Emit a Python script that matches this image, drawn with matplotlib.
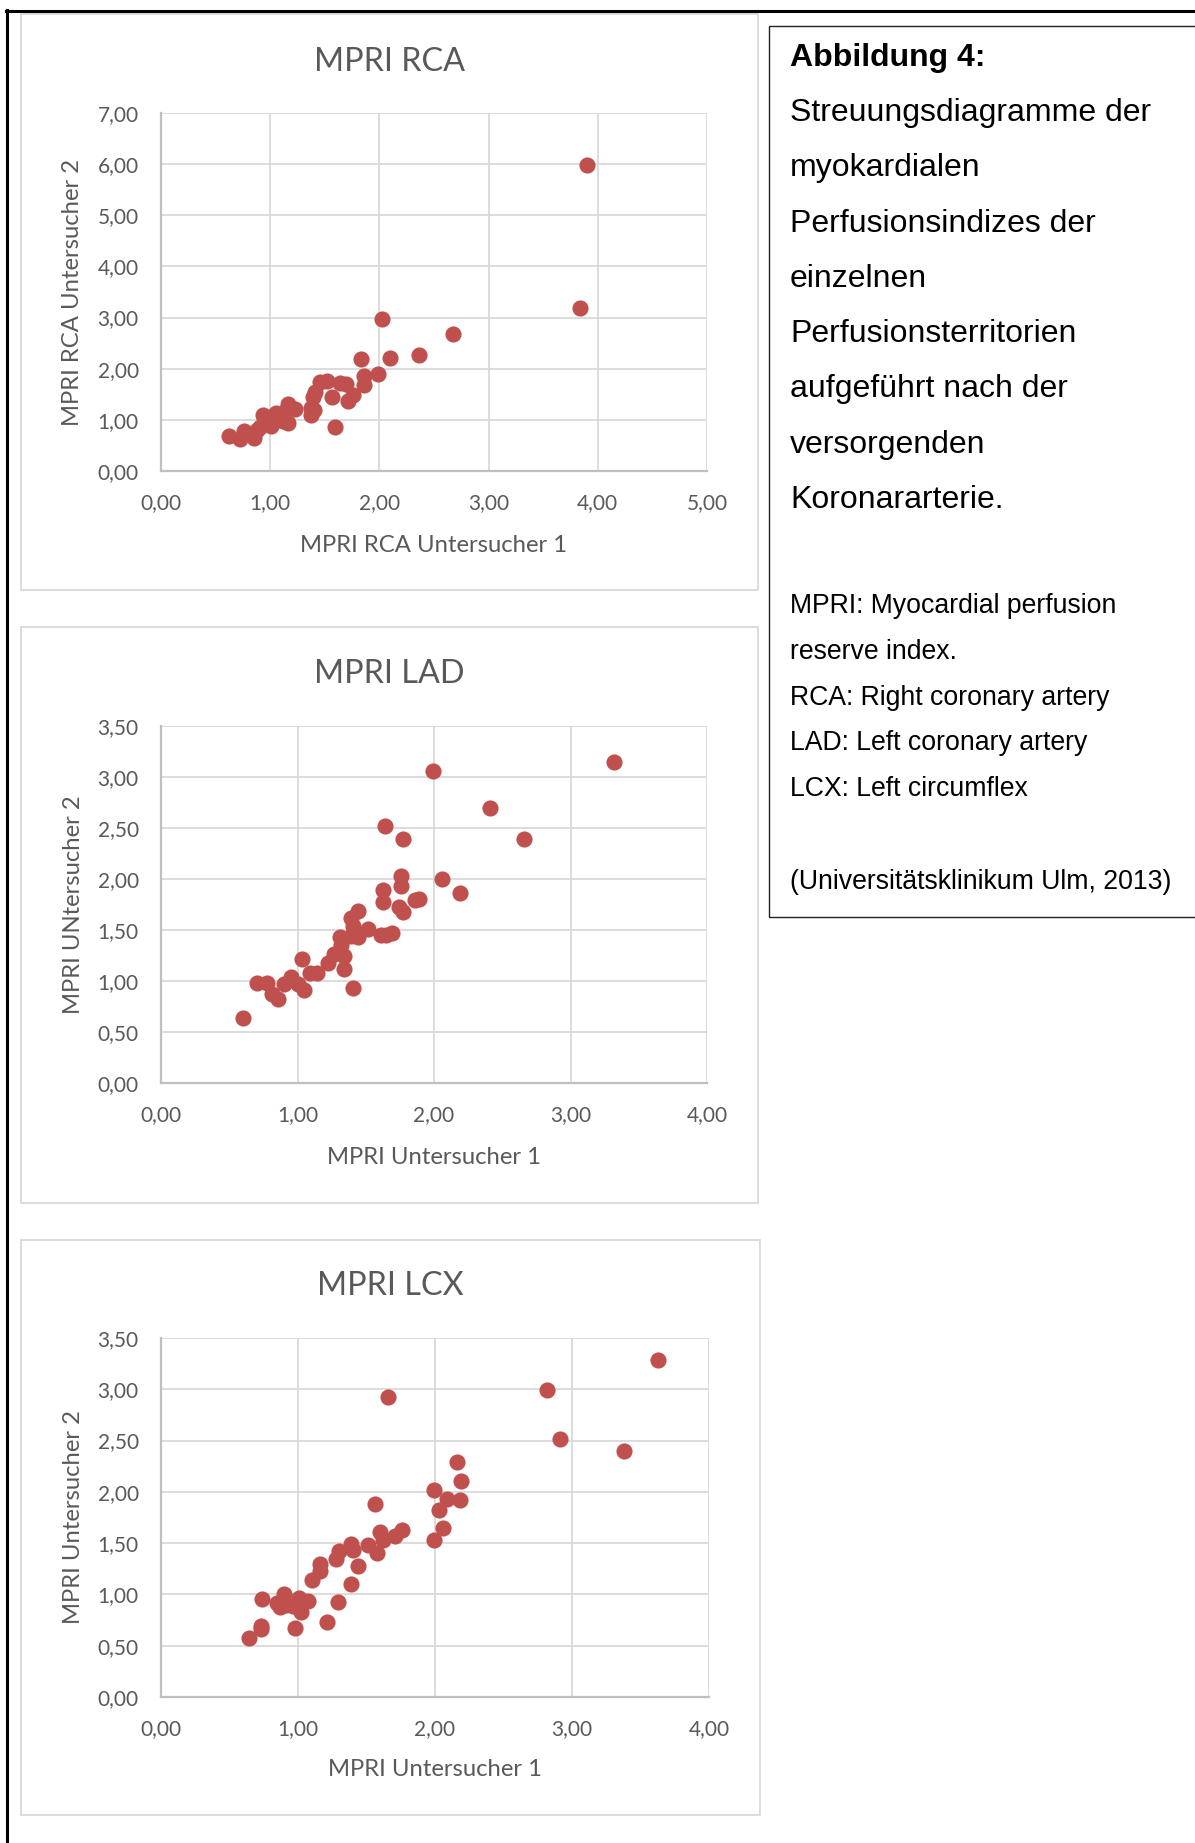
import matplotlib
matplotlib.use('Agg')
import matplotlib.pyplot as plt
import matplotlib.ticker as mticker
from matplotlib.patches import Rectangle
from matplotlib.lines import Line2D

# --- data ---
rca_x = [3.90, 3.84, 2.02, 2.67, 2.36, 2.10, 1.83, 1.99, 1.86, 1.86, 1.46, 1.52,
         1.64, 1.69, 1.76, 1.71, 1.57, 1.41, 1.39, 1.37, 1.40, 1.37, 1.59, 1.16,
         1.23, 1.16, 1.11, 1.05, 0.93, 0.98, 1.01, 0.91, 0.88, 0.76, 0.72, 0.62,
         0.85, 1.12, 1.07]
rca_y = [5.98, 3.18, 2.97, 2.67, 2.26, 2.21, 2.19, 1.90, 1.85, 1.68, 1.74, 1.76,
         1.72, 1.70, 1.49, 1.36, 1.44, 1.55, 1.44, 1.23, 1.19, 1.10, 0.87, 1.31,
         1.21, 0.93, 1.13, 1.14, 1.10, 1.00, 0.88, 0.87, 0.80, 0.78, 0.63, 0.68,
         0.64, 0.97, 1.03]

lad_x = [3.32, 1.99, 2.41, 2.66, 1.64, 1.77, 2.06, 2.19, 1.76, 1.76, 1.63, 1.63,
         1.86, 1.89, 1.74, 1.77, 1.44, 1.39, 1.41, 1.52, 1.61, 1.69, 1.65, 1.44,
         1.31, 1.39, 1.32, 1.34, 1.27, 1.22, 1.34, 1.03, 1.09, 1.14, 1.41, 0.95,
         0.90, 1.00, 1.05, 0.70, 0.78, 0.81, 0.86, 0.60]
lad_y = [3.15, 3.06, 2.70, 2.39, 2.52, 2.39, 2.00, 1.86, 2.03, 1.93, 1.89, 1.77,
         1.79, 1.80, 1.73, 1.68, 1.69, 1.62, 1.54, 1.51, 1.45, 1.47, 1.45, 1.43,
         1.43, 1.44, 1.35, 1.25, 1.26, 1.18, 1.12, 1.22, 1.08, 1.08, 0.93, 1.04,
         0.97, 0.97, 0.91, 0.98, 0.98, 0.87, 0.82, 0.64]

lcx_x = [3.63, 2.82, 2.91, 3.38, 1.66, 2.16, 2.19, 2.18, 1.99, 2.09, 2.03, 2.06,
         1.99, 1.56, 1.76, 1.71, 1.60, 1.62, 1.51, 1.58, 1.39, 1.40, 1.30, 1.28,
         1.44, 1.16, 1.16, 1.10, 1.39, 1.29, 1.21, 0.98, 0.74, 0.90, 0.85, 0.87,
         0.91, 1.01, 1.07, 0.96, 1.02, 1.01, 0.73, 0.73, 0.64]
lcx_y = [3.29, 2.99, 2.52, 2.40, 2.92, 2.29, 2.11, 1.92, 2.02, 1.93, 1.82, 1.65,
         1.53, 1.88, 1.63, 1.57, 1.61, 1.53, 1.48, 1.40, 1.49, 1.43, 1.42, 1.35,
         1.28, 1.30, 1.23, 1.14, 1.10, 0.93, 0.73, 0.67, 0.96, 1.00, 0.92, 0.88,
         0.90, 0.97, 0.94, 0.89, 0.83, 0.92, 0.69, 0.66, 0.58]

panels = [
    dict(title='MPRI RCA', x=rca_x, y=rca_y, xmax=5, ymax=7, ystep=1.0,
         xlabel='MPRI RCA Untersucher 1', ylabel='MPRI RCA Untersucher 2'),
    dict(title='MPRI LAD', x=lad_x, y=lad_y, xmax=4, ymax=3.5, ystep=0.5,
         xlabel='MPRI Untersucher 1', ylabel='MPRI UNtersucher 2'),
    dict(title='MPRI LCX', x=lcx_x, y=lcx_y, xmax=4, ymax=3.5, ystep=0.5,
         xlabel='MPRI Untersucher 1', ylabel='MPRI Untersucher 2'),
]

caption_head = 'Abbildung 4:'
caption_lines = ['Streuungsdiagramme der', 'myokardialen', 'Perfusionsindizes der',
                 'einzelnen', 'Perfusionsterritorien', 'aufgeführt nach der',
                 'versorgenden', 'Koronararterie.']
abbrev_lines = ['MPRI: Myocardial perfusion', 'reserve index.',
                'RCA: Right coronary artery', 'LAD: Left coronary artery',
                'LCX: Left circumflex']
source_line = '(Universitätsklinikum Ulm, 2013)'

# --- layout in pixels ---
W, H = 1195, 1843
DPI = 100
MARKER = '#C0504D'
GRID = '#D9D9D9'
AXLINE = '#BFBFBF'
TXT = '#595959'
plt.rcParams['font.family'] = ['Lato', 'DejaVu Sans']


def fx(x):
    return x / W


def fy(y):
    return 1 - y / H


def rect(x0, y0, x1, y1):
    return [fx(x0), fy(y1), (x1 - x0) / W, (y1 - y0) / H]


# panel frame, plot area, title y, x-label y
boxes = [
    ((21, 14, 758, 590), (161, 113, 707, 471), 62, 545),
    ((21, 627, 758, 1203), (161, 726, 707, 1083), 674, 1157),
    ((21, 1240, 760, 1815), (161, 1338, 709, 1697), 1286, 1769),
]

fig = plt.figure(figsize=(W / DPI, H / DPI), dpi=DPI, facecolor='white')

# outer page frame (left + top)
fig.add_artist(Line2D([fx(7), fx(7)], [fy(10), 0], color='black', lw=2.2))
fig.add_artist(Line2D([fx(6), 1], [fy(11), fy(11)], color='black', lw=2.2))

comma = mticker.FuncFormatter(lambda v, _: f'{v:.2f}'.replace('.', ','))

for p, (frame, area, ty, xly) in zip(panels, boxes):
    fig.add_artist(Rectangle((fx(frame[0]), fy(frame[3])),
                             (frame[2] - frame[0]) / W, (frame[3] - frame[1]) / H,
                             transform=fig.transFigure, fill=False,
                             edgecolor=GRID, lw=1.3))
    ax = fig.add_axes(rect(*area))
    ax.scatter(p['x'], p['y'], s=135, color=MARKER, linewidths=0, zorder=3,
               clip_on=False)
    ax.set_xlim(0, p['xmax'])
    ax.set_ylim(0, p['ymax'])
    ax.xaxis.set_major_locator(mticker.MultipleLocator(1.0))
    ax.yaxis.set_major_locator(mticker.MultipleLocator(p['ystep']))
    ax.xaxis.set_major_formatter(comma)
    ax.yaxis.set_major_formatter(comma)
    ax.grid(True, color=GRID, lw=1.3, zorder=0)
    ax.set_axisbelow(True)
    for side in ('top', 'right'):
        ax.spines[side].set_visible(False)
    for side in ('left', 'bottom'):
        ax.spines[side].set_color(AXLINE)
        ax.spines[side].set_linewidth(1.6)
        ax.spines[side].set_zorder(2)
    ax.tick_params(length=0, labelsize=15, labelcolor=TXT)
    ax.tick_params(axis='y', pad=16)
    ax.tick_params(axis='x', pad=16)

    cx = (frame[0] + frame[2]) / 2
    fig.text(fx(cx), fy(ty), p['title'], ha='center', va='center',
             fontsize=23.3, color=TXT)
    fig.text(fx((area[0] + area[2]) / 2), fy(xly), p['xlabel'], ha='center',
             va='center', fontsize=17.2, color=TXT)
    fig.text(fx(73), fy((area[1] + area[3]) / 2), p['ylabel'], ha='center',
             va='center', rotation=90, fontsize=17.2, color=TXT)

# caption box on the right
fig.add_artist(Rectangle((fx(769), fy(917)), (W + 10 - 769) / W, (917 - 26) / H,
                         transform=fig.transFigure, fill=False,
                         edgecolor='#222222', lw=1.0))

cap_font = ['Liberation Sans', 'DejaVu Sans']
tx = fx(790)
fig.text(tx, fy(58), caption_head, ha='left', va='center', fontsize=23,
         fontweight='bold', family=cap_font, color='black')
for i, line in enumerate(caption_lines):
    fig.text(tx, fy(113 + i * 55.3), line, ha='left', va='center', fontsize=23,
             family=cap_font, color='black')
for i, line in enumerate(abbrev_lines):
    fig.text(tx, fy(606 + i * 45.8), line, ha='left', va='center', fontsize=19.2,
             family=cap_font, color='black')
fig.text(tx, fy(882), source_line, ha='left', va='center', fontsize=19.2,
         family=cap_font, color='black')

fig.savefig('out.png', dpi=DPI, facecolor='white')
